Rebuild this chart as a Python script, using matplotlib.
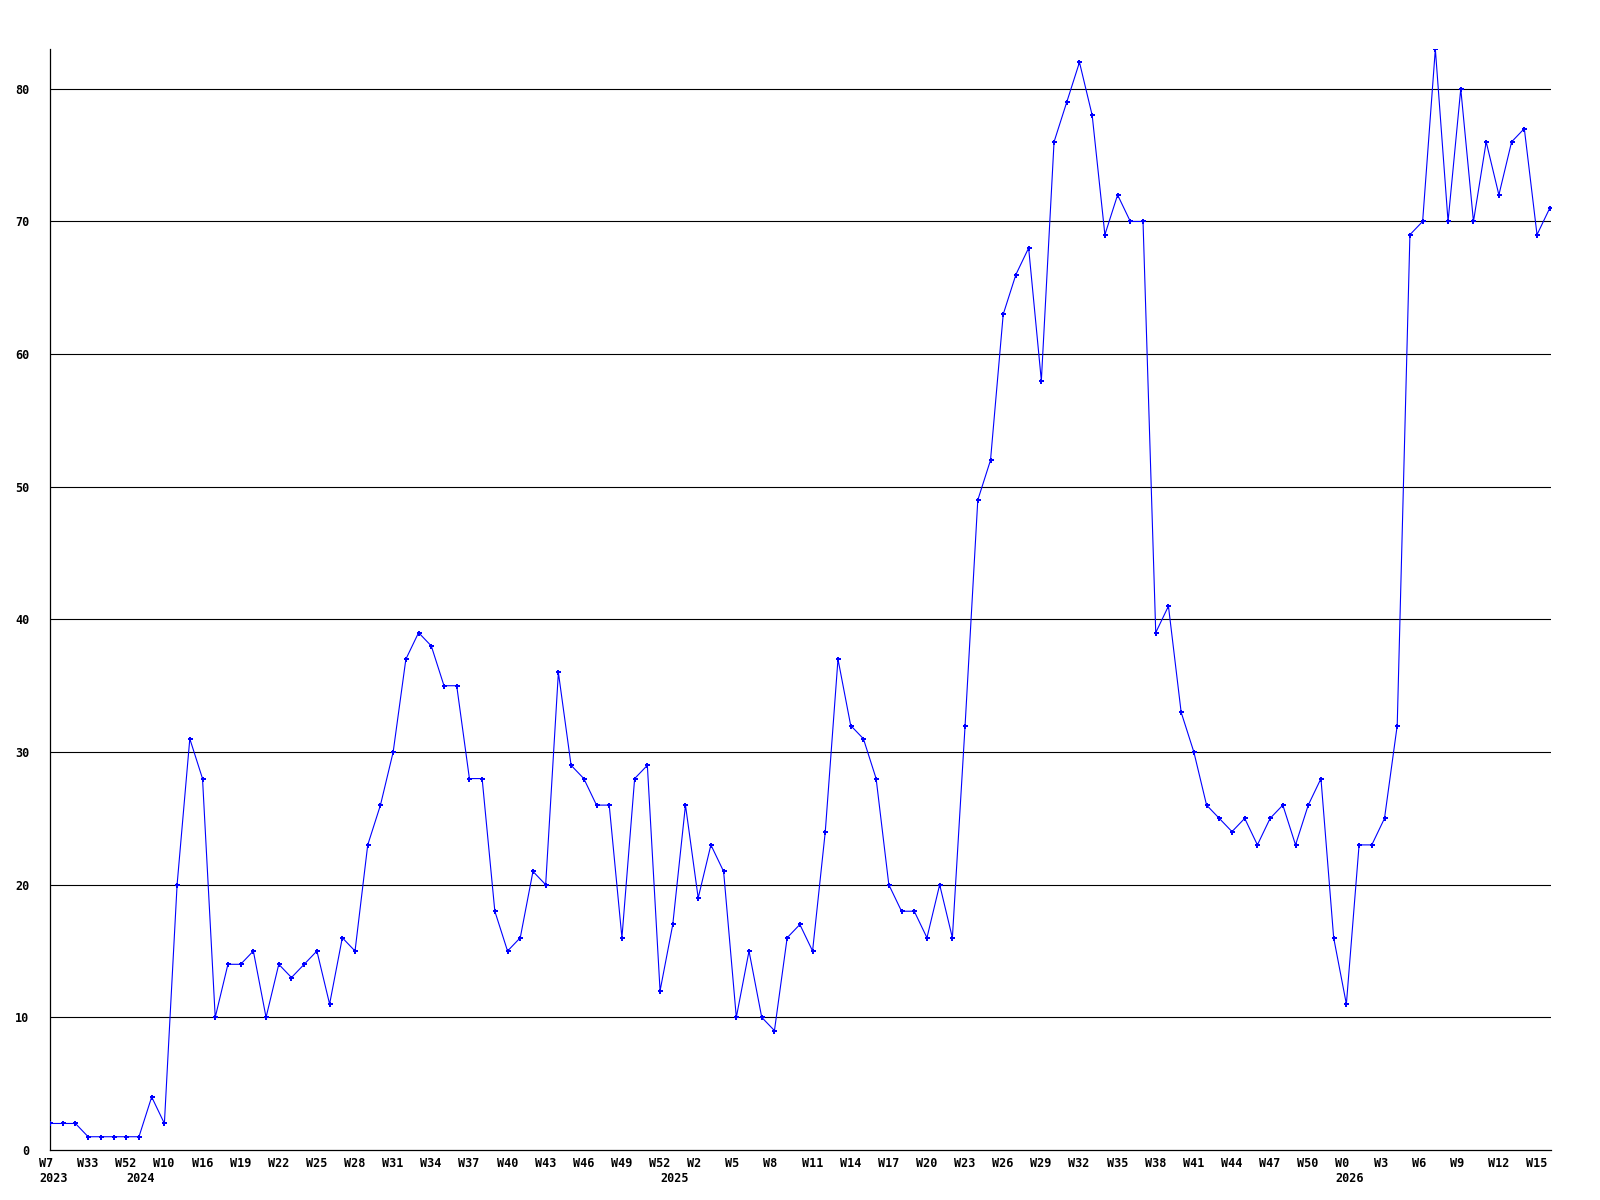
import matplotlib
matplotlib.use("Agg")
import matplotlib.pyplot as plt
import matplotlib.transforms as mtransforms

# weekly counts, one value per week
values = [2, 2, 2, 1, 1, 1, 1, 1, 4, 2,
          20, 31, 28, 10, 14, 14, 15, 10, 14, 13,
          14, 15, 11, 16, 15, 23, 26, 30, 37, 39,
          38, 35, 35, 28, 28, 18, 15, 16, 21, 20,
          36, 29, 28, 26, 26, 16, 28, 29, 12, 17,
          26, 19, 23, 21, 10, 15, 10, 9, 16, 17,
          15, 24, 37, 32, 31, 28, 20, 18, 18, 16,
          20, 16, 32, 49, 52, 63, 66, 68, 58, 76,
          79, 82, 78, 69, 72, 70, 70, 39, 41, 33,
          30, 26, 25, 24, 25, 23, 25, 26, 23, 26,
          28, 16, 11, 23, 23, 25, 32, 69, 70, 83,
          70, 80, 70, 76, 72, 76, 77, 69, 71]

week_labels = ["W7", "W33", "W52", "W10", "W16", "W19", "W22", "W25", "W28", "W31",
               "W34", "W37", "W40", "W43", "W46", "W49", "W52", "W2", "W5", "W8",
               "W11", "W14", "W17", "W20", "W23", "W26", "W29", "W32", "W35", "W38",
               "W41", "W44", "W47", "W50", "W0", "W3", "W6", "W9", "W12", "W15"]
tick_step = 3

years = ["2023", "2024", "2025", "2026"]
year_pos = [0, 6.9, 48.9, 102]

yticks = [0, 10, 20, 30, 40, 50, 60, 70, 80]

font = {"family": "DejaVu Sans Mono", "weight": "bold", "size": 8.5}

fig = plt.figure(figsize=(16, 12), dpi=100)
ax = fig.add_axes([50 / 1600, 1 - 1150 / 1200, 1501 / 1600, 1101 / 1200])

x = list(range(len(values)))
ax.plot(x, values, color="#0000ff", linewidth=0.8, marker="P",
        markersize=3.6, markeredgewidth=0, zorder=3)

for y in yticks[1:]:
    ax.axhline(y, color="black", linewidth=0.8, zorder=1)

ax.set_xlim(0, 118.1)
ax.set_ylim(0, 83)

ax.set_xticks([])
ax.set_yticks(yticks)
ax.set_yticklabels([str(v) for v in yticks], **font)
ax.tick_params(axis="both", length=0)
ax.tick_params(axis="y", pad=15)

for s in ["top", "right"]:
    ax.spines[s].set_visible(False)
for s in ["left", "bottom"]:
    ax.spines[s].set_color("black")
    ax.spines[s].set_linewidth(0.9)

# week labels start 10px left of their tick, years sit on a second row
base = mtransforms.blended_transform_factory(ax.transData, ax.transAxes)
shift = mtransforms.ScaledTranslation(-11 / 100, -7 / 100, fig.dpi_scale_trans)
for i, lab in enumerate(week_labels):
    ax.text(i * tick_step, 0, lab, transform=base + shift,
            ha="left", va="top", clip_on=False, **font)

shift2 = mtransforms.ScaledTranslation(-11 / 100, -22 / 100, fig.dpi_scale_trans)
for yr, pos in zip(years, year_pos):
    ax.text(pos, 0, yr, transform=base + shift2,
            ha="left", va="top", clip_on=False, **font)

fig.savefig("out.png", dpi=100, facecolor="white")
